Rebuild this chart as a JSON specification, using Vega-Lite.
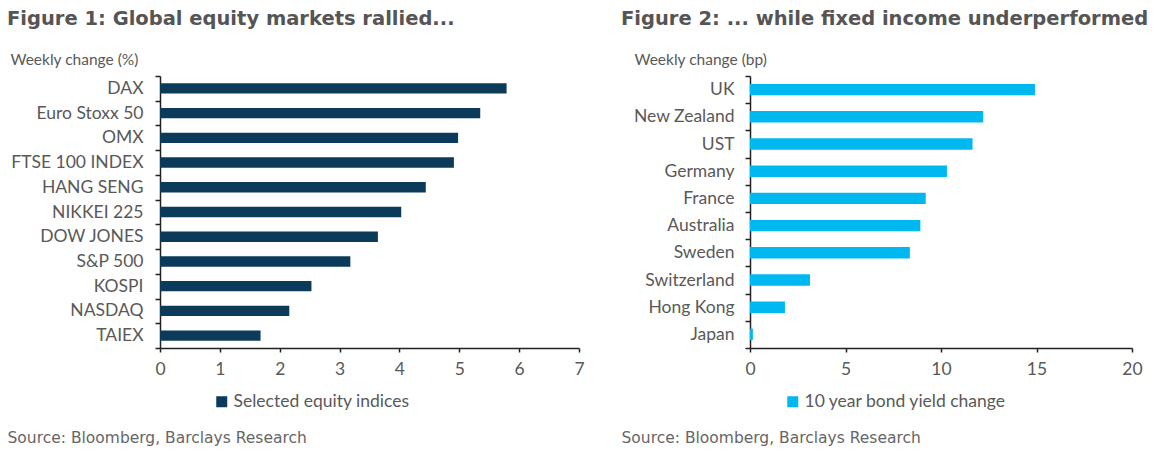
{
  "$schema": "https://vega.github.io/schema/vega-lite/v6.json",
  "background": "white",
  "padding": {"left": 7, "top": 8, "right": 5, "bottom": 5},
  "datasets": {
    "equity": [
      {"index": "DAX", "change": 5.79},
      {"index": "Euro Stoxx 50", "change": 5.35},
      {"index": "OMX", "change": 4.98},
      {"index": "FTSE 100 INDEX", "change": 4.91},
      {"index": "HANG SENG", "change": 4.44},
      {"index": "NIKKEI 225", "change": 4.03},
      {"index": "DOW JONES", "change": 3.64},
      {"index": "S&P 500", "change": 3.18},
      {"index": "KOSPI", "change": 2.53},
      {"index": "NASDAQ", "change": 2.16},
      {"index": "TAIEX", "change": 1.68}
    ],
    "bonds": [
      {"country": "UK", "change": 14.92},
      {"country": "New Zealand", "change": 12.21},
      {"country": "UST", "change": 11.65},
      {"country": "Germany", "change": 10.31},
      {"country": "France", "change": 9.2},
      {"country": "Australia", "change": 8.92},
      {"country": "Sweden", "change": 8.37},
      {"country": "Switzerland", "change": 3.14},
      {"country": "Hong Kong", "change": 1.83},
      {"country": "Japan", "change": 0.15}
    ]
  },
  "config": {
    "view": {"stroke": null},
    "font": "Lato",
    "axis": {
      "grid": false,
      "domainColor": "#222222",
      "tickColor": "#222222",
      "domainWidth": 1.5,
      "tickWidth": 1.5,
      "labelColor": "#595959",
      "labelFont": "Lato",
      "labelFontSize": 17.5,
      "titleFont": "Lato",
      "titleColor": "#595959",
      "titleFontWeight": "normal"
    },
    "title": {
      "font": "DejaVu Sans",
      "fontWeight": "bold",
      "fontSize": 19.5,
      "color": "#555555",
      "anchor": "start",
      "frame": "group"
    },
    "legend": {
      "labelFont": "Lato",
      "labelFontSize": 17.5,
      "labelColor": "#595959",
      "labelLimit": 0,
      "symbolType": "square",
      "symbolSize": 121,
      "symbolStrokeWidth": 0,
      "labelOffset": 3,
      "padding": 0
    }
  },
  "spacing": 36,
  "resolve": {
    "scale": {"x": "independent", "y": "independent", "color": "independent"},
    "legend": {"color": "independent"}
  },
  "hconcat": [
    {
      "data": {"name": "equity"},
      "width": 419,
      "height": 272,
      "title": {"text": "Figure 1: Global equity markets rallied...", "dx": -153, "offset": 23},
      "mark": {"type": "bar", "height": {"band": 0.42}},
      "encoding": {
        "y": {
          "field": "index",
          "type": "nominal",
          "sort": null,
          "scale": {"paddingInner": 0, "paddingOuter": 0},
          "axis": {
            "title": "Weekly change  (%)",
            "titleAngle": 0,
            "titleAlign": "left",
            "titleBaseline": "middle",
            "titleX": -150,
            "titleY": -17,
            "titleFontSize": 15.5,
            "tickBand": "extent",
            "tickSize": 5,
            "labelPadding": 12
          }
        },
        "x": {
          "field": "change",
          "type": "quantitative",
          "scale": {"domain": [0, 7], "nice": false},
          "axis": {
            "values": [0, 1, 2, 3, 4, 5, 6, 7],
            "title": "Source: Bloomberg, Barclays Research",
            "titleX": -153,
            "titleY": 89,
            "titleAlign": "left",
            "titleBaseline": "middle",
            "titleFont": "DejaVu Sans",
            "titleFontSize": 15.5,
            "titleColor": "#666666",
            "tickSize": 4,
            "labelPadding": 8,
            "labelFlush": false
          }
        },
        "color": {
          "datum": "Selected equity indices",
          "type": "nominal",
          "scale": {"range": ["#0b3a5b"]},
          "legend": {"title": null, "orient": "none", "legendX": 53, "legendY": 317}
        }
      }
    },
    {
      "data": {"name": "bonds"},
      "width": 382,
      "height": 272,
      "title": {"text": "Figure 2: ... while fixed income underperformed", "dx": -129, "offset": 23},
      "mark": {"type": "bar", "height": {"band": 0.42}},
      "encoding": {
        "y": {
          "field": "country",
          "type": "nominal",
          "sort": null,
          "scale": {"paddingInner": 0, "paddingOuter": 0},
          "axis": {
            "title": "Weekly change  (bp)",
            "titleAngle": 0,
            "titleAlign": "left",
            "titleBaseline": "middle",
            "titleX": -116,
            "titleY": -17,
            "titleFontSize": 15.5,
            "tickBand": "extent",
            "tickSize": 5,
            "labelPadding": 11
          }
        },
        "x": {
          "field": "change",
          "type": "quantitative",
          "scale": {"domain": [0, 20], "nice": false},
          "axis": {
            "values": [0, 5, 10, 15, 20],
            "title": "Source: Bloomberg, Barclays Research",
            "titleX": -129,
            "titleY": 89,
            "titleAlign": "left",
            "titleBaseline": "middle",
            "titleFont": "DejaVu Sans",
            "titleFontSize": 15.5,
            "titleColor": "#666666",
            "tickSize": 4,
            "labelPadding": 8,
            "labelFlush": false
          }
        },
        "color": {
          "datum": "10 year bond yield change",
          "type": "nominal",
          "scale": {"range": ["#00b8f0"]},
          "legend": {"title": null, "orient": "none", "legendX": 34, "legendY": 317}
        }
      }
    }
  ]
}
